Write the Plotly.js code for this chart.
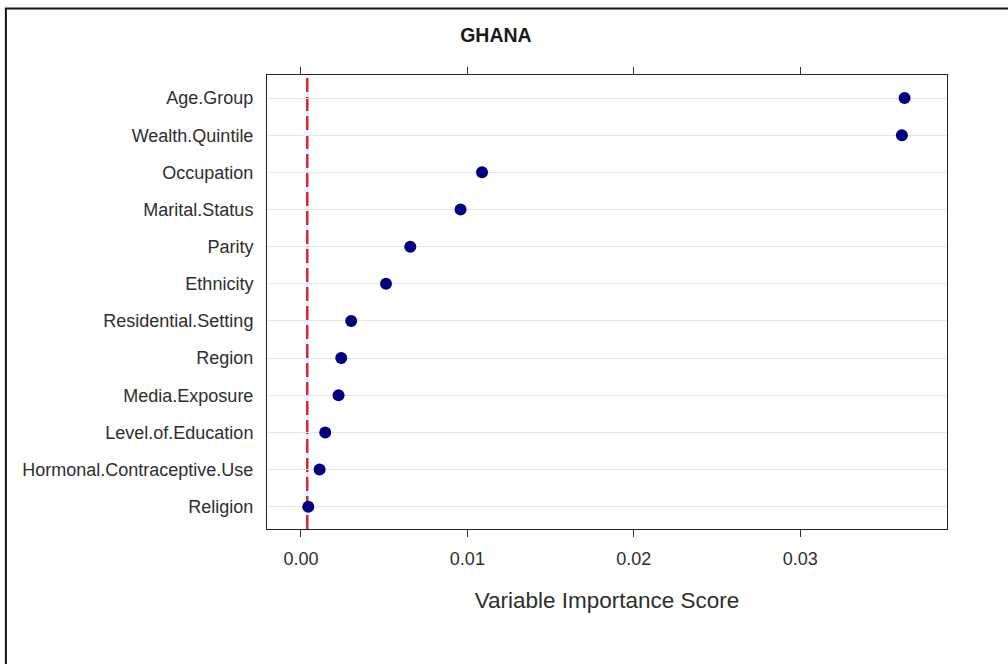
<!DOCTYPE html>
<html>
<head>
<meta charset="utf-8">
<script src="https://cdn.plot.ly/plotly-3.0.1.min.js"></script>
<style>
html, body { margin: 0; padding: 0; background: #ffffff; }
#chart { width: 1008px; height: 664px; }
</style>
</head>
<body>
<div id="chart"></div>
<script>
// Variables, bottom to top
const variables = [
  "Religion",
  "Hormonal.Contraceptive.Use",
  "Level.of.Education",
  "Media.Exposure",
  "Region",
  "Residential.Setting",
  "Ethnicity",
  "Parity",
  "Marital.Status",
  "Occupation",
  "Wealth.Quintile",
  "Age.Group"
];
const importance = [
  0.00044,
  0.00112,
  0.00146,
  0.00226,
  0.00242,
  0.00302,
  0.00511,
  0.00657,
  0.00959,
  0.01088,
  0.03611,
  0.03627
];
const cutoff = [0.00038];
const xTicks = [0, 0.01, 0.02, 0.03];
const xTickLabels = ["0.00", "0.01", "0.02", "0.03"];

const trace = {
  type: "scatter",
  mode: "markers",
  x: importance,
  y: variables,
  marker: { color: "#000080", size: 12, line: { width: 0 } },
  hoverinfo: "x+y",
  showlegend: false,
  cliponaxis: false
};

const layout = {
  width: 1008,
  height: 664,
  paper_bgcolor: "#ffffff",
  plot_bgcolor: "#ffffff",
  margin: { l: 267, r: 61, t: 75, b: 135 },
  font: { family: "Liberation Sans, Arial, sans-serif", color: "#2e2e2e" },
  title: {
    text: "<b>GHANA</b>",
    x: 0.492, xref: "container", xanchor: "center",
    y: 0.947, yref: "container", yanchor: "middle",
    font: { size: 19.5, color: "#1a1a1a", family: "Liberation Sans, Arial, sans-serif" }
  },
  xaxis: {
    range: [-0.00204, 0.03882],
    tickvals: xTicks,
    ticktext: xTickLabels,
    ticks: "outside",
    ticklen: 7,
    tickwidth: 1,
    tickcolor: "#333333",
    showline: true,
    linecolor: "#222222",
    linewidth: 1,
    mirror: "ticks",
    showgrid: false,
    zeroline: false,
    tickfont: { size: 18, color: "#2e2e2e" },
    ticklabelstandoff: 6,
    title: { text: "Variable Importance Score", font: { size: 22.5, color: "#2e2e2e" }, standoff: 24 }
  },
  yaxis: {
    type: "category",
    categoryorder: "array",
    categoryarray: variables,
    range: [-0.6, 11.62],
    showline: true,
    linecolor: "#222222",
    linewidth: 1,
    mirror: true,
    ticks: "",
    showgrid: true,
    gridcolor: "#e6e6e6",
    gridwidth: 1,
    zeroline: false,
    tickfont: { size: 18, color: "#2e2e2e" },
    ticklabelstandoff: 9
  },
  shapes: [
    {
      type: "line", xref: "x", yref: "paper",
      x0: cutoff[0], x1: cutoff[0], y0: 0, y1: 1,
      line: { color: "#e0232a", width: 2.5, dash: "14px,5px" },
      layer: "below"
    },
    {
      type: "rect", xref: "paper", yref: "paper",
      x0: -0.384, x1: 2, y0: -1, y1: 1.1465,
      line: { color: "#111111", width: 2 },
      fillcolor: "rgba(0,0,0,0)"
    }
  ]
};

Plotly.newPlot("chart", [trace], layout, { displayModeBar: false, staticPlot: true });
</script>
</body>
</html>
